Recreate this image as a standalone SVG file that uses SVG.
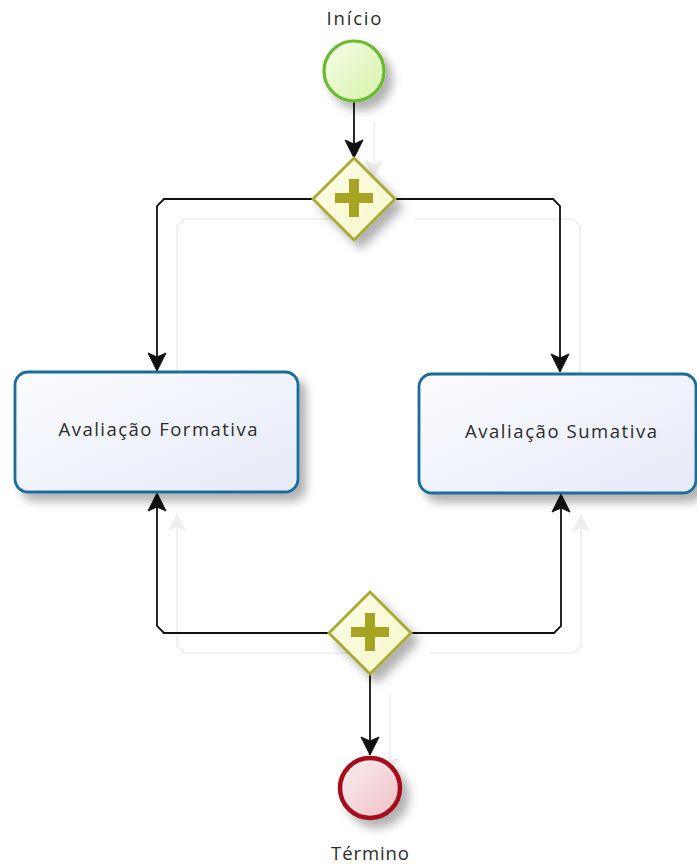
<svg xmlns="http://www.w3.org/2000/svg" width="697" height="864" viewBox="0 0 697 864">
<style>
.lbl{font-family:"Open Sans","DejaVu Sans","Liberation Sans",sans-serif;font-size:18.5px;font-weight:500;fill:#2b2b2b;text-anchor:middle}
.con{fill:none;stroke:#111;stroke-width:1.8}
.ghost{fill:none;stroke:#eeeeee;stroke-width:1.6}
.task{fill:url(#taskFill);stroke:#1d6c9a;stroke-width:2.8}
.gw{fill:url(#gwFill);stroke:#a9a830;stroke-width:2.8}
.plus{fill:#a6a422}
</style>
<defs>
<linearGradient id="taskFill" x1="0" y1="0" x2="1" y2="1">
<stop offset="0" stop-color="#fbfcff"/><stop offset="1" stop-color="#e6eaf8"/>
</linearGradient>
<linearGradient id="gwFill" x1="0" y1="0" x2="1" y2="1">
<stop offset="0" stop-color="#fdfde8"/><stop offset="1" stop-color="#f5f6c8"/>
</linearGradient>
<linearGradient id="startFill" x1="0" y1="0" x2="1" y2="1">
<stop offset="0" stop-color="#f6fde9"/><stop offset="1" stop-color="#d6f2a8"/>
</linearGradient>
<linearGradient id="endFill" x1="0" y1="0" x2="1" y2="1">
<stop offset="0" stop-color="#fbeef0"/><stop offset="1" stop-color="#eec0c6"/>
</linearGradient>
<filter id="sh" x="-30%" y="-30%" width="170%" height="170%">
<feDropShadow dx="7" dy="8" stdDeviation="5" flood-color="#000" flood-opacity="0.3"/>
</filter>
<marker id="arr" markerUnits="userSpaceOnUse" markerWidth="24" markerHeight="24" viewBox="-20 -12 24 24" refX="0" refY="0" orient="auto">
<path d="M0,0 L-18,-9 L-14,0 L-18,9 Z" fill="#111" stroke="#111" stroke-width="1" stroke-linejoin="round"/>
</marker>
<marker id="arrG" markerUnits="userSpaceOnUse" markerWidth="24" markerHeight="24" viewBox="-20 -12 24 24" refX="0" refY="0" orient="auto">
<path d="M0,0 L-18,-9 L-14,0 L-18,9 Z" fill="#eeeeee"/>
</marker>
</defs>

<g id="connector-shadows" transform="translate(20,20)">
<path class="ghost" marker-end="url(#arrG)" d="M354,102 V158"/>
<path class="ghost" marker-end="url(#arrG)" d="M313,199 H164 L157,206 V371"/>
<path class="ghost" marker-end="url(#arrG)" d="M395,199 H553 L560,206 V372"/>
<path class="ghost" marker-end="url(#arrG)" d="M330,633 H164 L157,626 V493"/>
<path class="ghost" marker-end="url(#arrG)" d="M410,633 H554 L561,626 V494"/>
<path class="ghost" marker-end="url(#arrG)" d="M370,674 V755"/>
</g>

<g id="connectors">
<path class="con" marker-end="url(#arr)" d="M354,102 V158"/>
<path class="con" marker-end="url(#arr)" d="M313,199 H164 L157,206 V371"/>
<path class="con" marker-end="url(#arr)" d="M395,199 H553 L560,206 V372"/>
<path class="con" marker-end="url(#arr)" d="M330,633 H164 L157,626 V493"/>
<path class="con" marker-end="url(#arr)" d="M410,633 H554 L561,626 V494"/>
<path class="con" marker-end="url(#arr)" d="M370,674 V755"/>
</g>

<g id="start">
<circle cx="354" cy="71" r="30" fill="url(#startFill)" stroke="#6bb92f" stroke-width="3.2" filter="url(#sh)"/>
<text class="lbl" x="354" y="25" textLength="55" lengthAdjust="spacing">Início</text>
</g>

<g id="split">
<path class="gw" d="M354,158 L395,199 L354,240 L313,199 Z" filter="url(#sh)"/>
<path class="plus" d="M349,179 H359 V193 H373 V203 H359 V217 H349 V203 H335 V193 H349 Z"/>
</g>

<g id="formativa">
<rect class="task" x="15" y="372" width="283" height="120" rx="13" filter="url(#sh)"/>
<text class="lbl" x="158" y="436" textLength="199" lengthAdjust="spacing">Avaliação Formativa</text>
</g>

<g id="sumativa">
<rect class="task" x="419" y="374" width="277" height="119" rx="13" filter="url(#sh)"/>
<text class="lbl" x="561" y="438" textLength="192" lengthAdjust="spacing">Avaliação Sumativa</text>
</g>

<g id="join">
<path class="gw" d="M370,592 L411,633 L370,674 L329,633 Z" filter="url(#sh)"/>
<path class="plus" d="M365,613 H375 V627 H389 V637 H375 V651 H365 V637 H351 V627 H365 Z"/>
</g>

<g id="end">
<circle cx="370" cy="788" r="30" fill="url(#endFill)" stroke="#a50f1c" stroke-width="4.5" filter="url(#sh)"/>
<text class="lbl" x="370" y="860" textLength="78" lengthAdjust="spacing">Término</text>
</g>
</svg>
